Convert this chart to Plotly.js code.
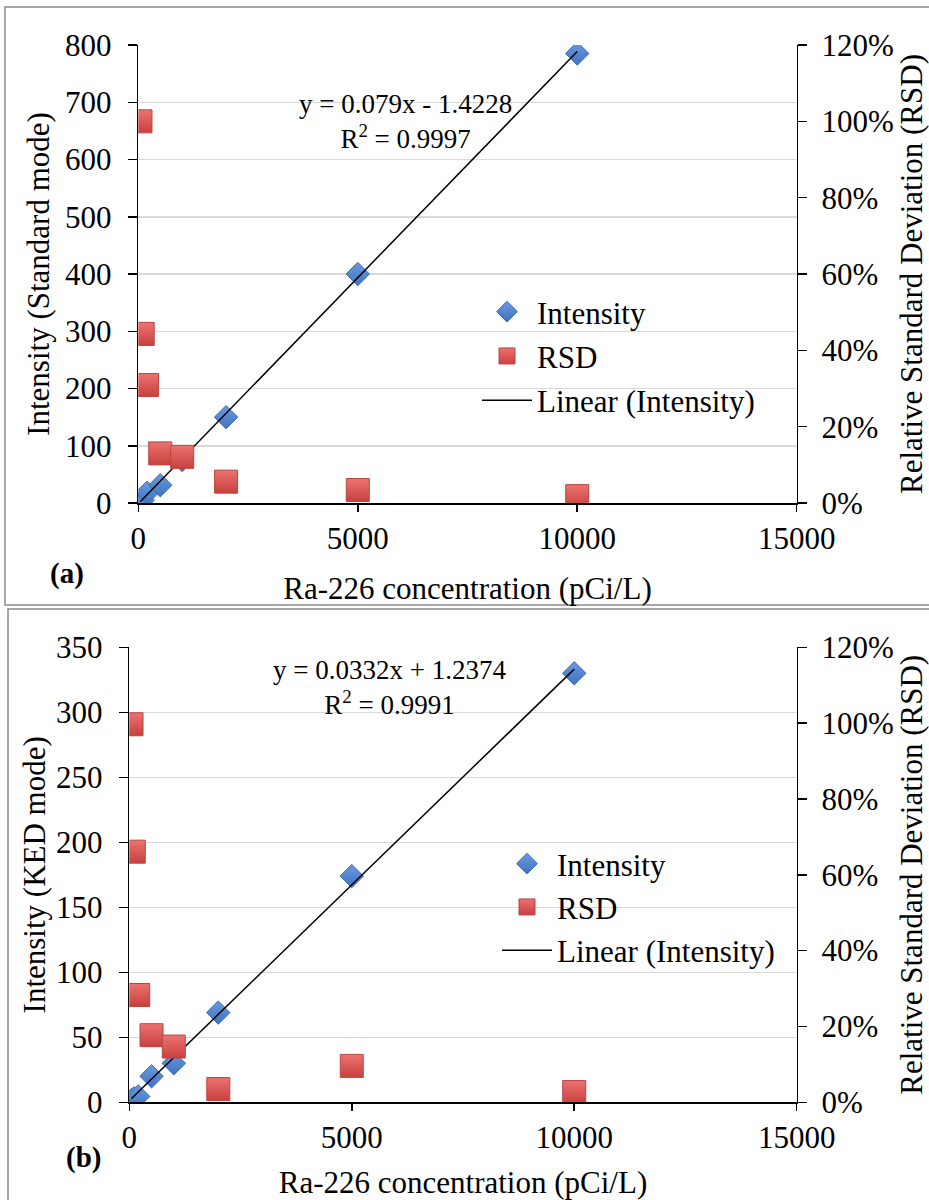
<!DOCTYPE html>
<html>
<head>
<meta charset="utf-8">
<script src="https://cdn.plot.ly/plotly-3.0.1.min.js"></script>
<style>html,body{margin:0;padding:0;background:#fff;}#chart{width:929px;height:1200px;}</style>
</head>
<body>
<div id="chart"></div>
<script>
// ---- data ----
const concentration = [50, 100, 200, 500, 1000, 2000, 5000, 10000];
const intensityStandard = [1, 5, 18, 31, 75, 150, 400, 785];
const rsdStandard = [1.00, 0.443, 0.309, 0.130, 0.121, 0.056, 0.034, 0.018];
const intensityKED = [1.7, 3, 4.5, 20, 30, 69, 174, 330];
const rsdKED = [0.997, 0.661, 0.283, 0.177, 0.147, 0.035, 0.096, 0.027];
const fitStandard = {slope: 0.079, intercept: -1.4228, r2: '0.9997'};
const fitKED = {slope: 0.0332, intercept: 1.2374, r2: '0.9991'};
const xTickVals = [0, 5000, 10000, 15000];
const xTickText = ['0', '5000', '10000', '15000'];
const seriesNames = ['Intensity', 'RSD', 'Linear (Intensity)'];

// ---- helpers ----
const W = 929, H = 1200;
const px = v => v / W;
const py = v => 1 - v / H;
const FONT = 'Liberation Serif, Times New Roman, serif';

function trend(fit) {
  const xs = [concentration[0], concentration[concentration.length - 1]];
  return {x: xs, y: xs.map(v => fit.slope * v + fit.intercept)};
}

const diamond = {symbol: 'diamond', size: 18, color: '#6a9be0',
  gradient: {type: 'vertical', color: '#3f72c0'}, line: {color: '#3d6db3', width: 1}};
const square = {symbol: 'square', size: 23, color: '#ec7371',
  gradient: {type: 'vertical', color: '#c8403d'}, line: {color: '#b94542', width: 1}};

const tA = trend(fitStandard), tB = trend(fitKED);

const traces = [
  {type: 'scatter', mode: 'markers', name: seriesNames[0], x: concentration, y: intensityStandard,
   xaxis: 'x', yaxis: 'y', marker: diamond, legend: 'legend', legendgroup: 'a1', legendrank: 1},
  {type: 'scatter', mode: 'lines', name: seriesNames[2], x: tA.x, y: tA.y,
   xaxis: 'x', yaxis: 'y', line: {color: '#000', width: 1.5}, legend: 'legend', legendgroup: 'a3', legendrank: 3},
  {type: 'scatter', mode: 'markers', name: seriesNames[1], x: concentration, y: rsdStandard,
   xaxis: 'x', yaxis: 'y2', marker: square, legend: 'legend', legendgroup: 'a2', legendrank: 2},
  {type: 'scatter', mode: 'markers', name: seriesNames[0], x: concentration, y: intensityKED,
   xaxis: 'x2', yaxis: 'y3', marker: diamond, legend: 'legend2', legendgroup: 'b1', legendrank: 1},
  {type: 'scatter', mode: 'lines', name: seriesNames[2], x: tB.x, y: tB.y,
   xaxis: 'x2', yaxis: 'y3', line: {color: '#000', width: 1.5}, legend: 'legend2', legendgroup: 'b3', legendrank: 3},
  {type: 'scatter', mode: 'markers', name: seriesNames[1], x: concentration, y: rsdKED,
   xaxis: 'x2', yaxis: 'y4', marker: square, legend: 'legend2', legendgroup: 'b2', legendrank: 2}
];

const tickFont = {family: FONT, size: 31, color: '#000'};
const titleFont = {family: FONT, size: 31, color: '#000'};

function xAxis(domain, anchor, standoff) {
  return {domain: domain, anchor: anchor, range: [0, 15000], tickvals: xTickVals, ticktext: xTickText,
    ticks: 'outside', ticklen: 7, tickwidth: 1.5, tickcolor: '#000',
    showline: true, linecolor: '#000', linewidth: 1.5, showgrid: false, zeroline: false,
    tickfont: tickFont, ticklabelstandoff: 0,
    title: {text: 'Ra-226 concentration (pCi/L)', font: titleFont, standoff: standoff}};
}
function yLeft(domain, anchor, max, dtick, title, standoff) {
  return {domain: domain, anchor: anchor, range: [0, max], dtick: dtick,
    ticks: 'outside', ticklen: 9, tickwidth: 1.5, tickcolor: '#000',
    showline: true, linecolor: '#000', linewidth: 1.5,
    showgrid: true, gridcolor: '#d9d9d9', gridwidth: 1.5, zeroline: false,
    tickfont: tickFont, ticklabelstandoff: 10,
    title: {text: title, font: titleFont, standoff: standoff}};
}
function yRight(overlay, anchor) {
  return {overlaying: overlay, anchor: anchor, side: 'right', range: [0, 1.2], dtick: 0.2,
    tickformat: '.0%', ticks: 'outside', ticklen: 9, tickwidth: 1.5, tickcolor: '#000',
    showline: true, linecolor: '#000', linewidth: 1.5, showgrid: false, zeroline: false,
    tickfont: tickFont, ticklabelstandoff: 8,
    title: {text: 'Relative Standard Deviation (RSD)', font: titleFont, standoff: 0}};
}

const legendBase = {font: {family: FONT, size: 31, color: '#000'}, bgcolor: 'rgba(0,0,0,0)',
  traceorder: 'grouped', itemwidth: 50, xanchor: 'left', yanchor: 'top'};

const layout = {
  width: W, height: H, margin: {l: 0, r: 0, t: 0, b: 0},
  paper_bgcolor: '#fff', plot_bgcolor: 'rgba(0,0,0,0)',
  font: {family: FONT, color: '#000'},
  showlegend: true,
  xaxis: xAxis([px(138.3), px(796.7)], 'y', 22),
  yaxis: yLeft([py(503), py(45)], 'x', 800, 100, 'Intensity (Standard mode)', 6),
  yaxis2: yRight('y', 'x'),
  xaxis2: xAxis([px(129.3), px(796.7)], 'y3', 34),
  yaxis3: yLeft([py(1102.3), py(647.3)], 'x2', 350, 50, 'Intensity (KED mode)', 1),
  yaxis4: yRight('y3', 'x2'),
  legend: Object.assign({}, legendBase, {x: px(477), y: py(285), tracegroupgap: 1}),
  legend2: Object.assign({}, legendBase, {x: px(497), y: py(837), tracegroupgap: 0}),
  annotations: [
    {xref: 'paper', yref: 'paper', x: px(405), y: py(87), showarrow: false,
     text: 'y = ' + fitStandard.slope + 'x - ' + Math.abs(fitStandard.intercept) + '<br>R<sup>2</sup> = ' + fitStandard.r2,
     font: {family: FONT, size: 27, color: '#000'}, align: 'center'},
    {xref: 'paper', yref: 'paper', x: px(389), y: py(687), showarrow: false,
     text: 'y = ' + fitKED.slope + 'x + ' + fitKED.intercept + '<br>R<sup>2</sup> = ' + fitKED.r2,
     font: {family: FONT, size: 27, color: '#000'}, align: 'center'},
    {xref: 'paper', yref: 'paper', x: px(48), y: py(573), showarrow: false,
     text: '<b>(a)</b>', font: {family: FONT, size: 29, color: '#000'}},
    {xref: 'paper', yref: 'paper', x: px(64), y: py(1176), showarrow: false,
     text: '<b>(b)</b>', font: {family: FONT, size: 29, color: '#000'}}
  ],
  shapes: [
    {type: 'rect', xref: 'paper', yref: 'paper', x0: px(5), x1: px(945), y0: py(7), y1: py(605),
     line: {color: '#8a8a8a', width: 1.5}, layer: 'below'},
    {type: 'rect', xref: 'paper', yref: 'paper', x0: px(8), x1: px(945), y0: py(609), y1: py(1215),
     line: {color: '#8a8a8a', width: 1.5}, layer: 'below'}
  ]
};

Plotly.newPlot('chart', traces, layout, {displayModeBar: false, staticPlot: true});
</script>
</body>
</html>
